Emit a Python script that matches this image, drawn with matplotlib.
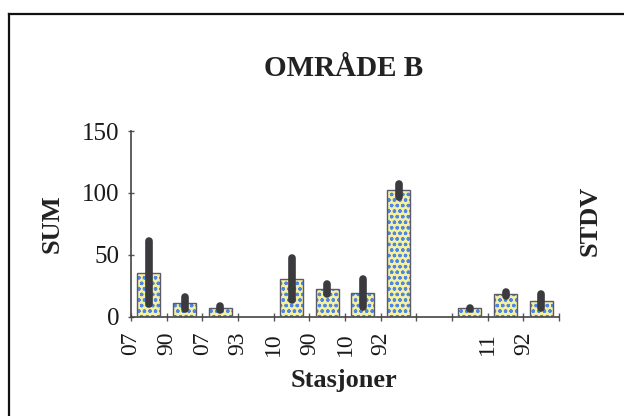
import numpy as np
import matplotlib.pyplot as plt
from matplotlib.lines import Line2D

plt.rcParams['font.family'] = ['Liberation Serif', 'DejaVu Serif']
plt.rcParams['hatch.linewidth'] = 0.9

# Stasjoner: SUM og standardavvik per prøve
tick_labels = ["07", "90", "07", "93", "10", "90", "10", "92", "", "", "11", "92", ""]
sum_values = [35.7, 10.8, 7.3, 0, 30.5, 22.6, 19.2, 102.0, 0, 6.8, 18.4, 12.7]
stdv_values = [25.8, 4.9, 1.5, 0, 17.2, 4.0, 11.2, 5.5, 0, 0.4, 1.5, 5.3]

fig = plt.figure(figsize=(6.24, 4.16), dpi=100)
ax = fig.add_axes([131 / 624, 1 - 316.7 / 416, 428 / 624, (316.7 - 131) / 416])

x = np.arange(len(sum_values))
has_data = np.array(sum_values) > 0
xs = x[has_data]
sums = np.array(sum_values)[has_data]
stds = np.array(stdv_values)[has_data]

# gul fyll med blått mønster, så omriss
ax.bar(xs, sums, width=0.65, color='#f6f1a2', hatch='ooo', edgecolor='#4f86e0',
       linewidth=0, zorder=2)
ax.bar(xs, sums, width=0.65, fill=False, edgecolor='#5a5a6a', linewidth=1.0, zorder=3)

# STDV som tykke streker rundt søylehøyden
ax.vlines(xs, sums - stds, sums + stds, colors='#3b3b3f', linewidth=5.5,
          capstyle='round', zorder=4)

ax.set_xlim(-0.5, len(sum_values) - 0.5)
ax.set_ylim(0, 150)
ax.set_yticks([0, 50, 100, 150])
ax.set_xticks(np.arange(len(tick_labels)) - 0.5)
ax.set_xticklabels(tick_labels, rotation=90, fontsize=17, color='#1a1a1a')
ax.tick_params(axis='y', labelsize=18, labelcolor='#1a1a1a', direction='inout',
               length=5, width=1, color='#555', pad=6)
ax.tick_params(axis='x', direction='inout', length=6, width=1, color='#555', pad=8)

for side in ['top', 'right']:
    ax.spines[side].set_visible(False)
for side in ['left', 'bottom']:
    ax.spines[side].set_color('#444')
    ax.spines[side].set_linewidth(1.2)

fig.text(344 / 624, 1 - 69 / 416, "OMRÅDE B", ha='center', va='center',
         fontsize=21, fontweight='bold', color='#222')
fig.text(344 / 624, 1 - 381 / 416, "Stasjoner", ha='center', va='center',
         fontsize=19, fontweight='bold', color='#222')
fig.text(52 / 624, 1 - 223.5 / 416, "SUM", ha='center', va='center', rotation=90,
         fontsize=19, fontweight='bold', color='#222')
fig.text(590 / 624, 1 - 221 / 416, "STDV", ha='center', va='center', rotation=90,
         fontsize=19, fontweight='bold', color='#222')

# ytre ramme
fig.add_artist(Line2D([9 / 624, 9 / 624], [0, 1 - 14 / 416], color='#111', linewidth=1.6))
fig.add_artist(Line2D([9 / 624, 1], [1 - 14 / 416, 1 - 14 / 416], color='#111', linewidth=1.6))

fig.savefig("out.png", dpi=100)
